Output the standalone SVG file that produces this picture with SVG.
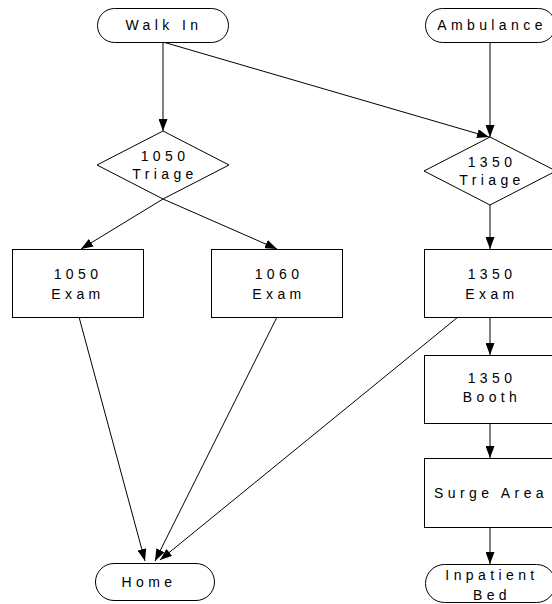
<svg xmlns="http://www.w3.org/2000/svg" width="552" height="604" viewBox="0 0 552 604">
  <defs>
    <marker id="arrow" viewBox="0 0 12 9" refX="12" refY="4.5" markerWidth="12" markerHeight="9" markerUnits="userSpaceOnUse" orient="auto">
      <path d="M0,0 L12,4.5 L0,9 Z" fill="#000"/>
    </marker>
  </defs>
  <style>
    .shape { fill: #fff; stroke: #000; stroke-width: 1; }
    .edge { fill: none; stroke: #000; stroke-width: 1; marker-end: url(#arrow); }
    .label { font-family: "Liberation Sans", Arial, sans-serif; font-size: 14px; letter-spacing: 4.4px; fill: #000; text-anchor: middle; }
  </style>
  <rect width="552" height="604" fill="#fff"/>

  <!-- connectors -->
  <g id="connectors">
    <line class="edge" x1="163" y1="42" x2="163" y2="131"/>
    <line class="edge" x1="163" y1="42" x2="489" y2="137"/>
    <line class="edge" x1="490" y1="42" x2="490" y2="137"/>
    <line class="edge" x1="163" y1="199" x2="81" y2="249"/>
    <line class="edge" x1="163" y1="199" x2="277" y2="249"/>
    <line class="edge" x1="490" y1="205" x2="490" y2="249"/>
    <line class="edge" x1="490" y1="317" x2="490" y2="355"/>
    <line class="edge" x1="490" y1="423" x2="490" y2="458"/>
    <line class="edge" x1="490" y1="527" x2="490" y2="564"/>
    <line class="edge" x1="79" y1="317" x2="145" y2="561"/>
    <line class="edge" x1="277" y1="317" x2="155" y2="561"/>
    <line class="edge" x1="458" y1="317" x2="160" y2="560"/>
  </g>

  <!-- terminals -->
  <g id="walk-in">
    <rect class="shape" x="97.5" y="8.5" width="131" height="34" rx="17" ry="17"/>
    <text class="label" x="164" y="29.5">Walk In</text>
  </g>
  <g id="ambulance">
    <rect class="shape" x="425.5" y="8.5" width="130" height="34" rx="17" ry="17"/>
    <text class="label" x="492" y="30">Ambulance</text>
  </g>

  <!-- triage decisions -->
  <g id="triage-1050">
    <polygon class="shape" points="163,131 229,165 163,199 97,165"/>
    <text class="label" x="165" y="161">1050</text>
    <text class="label" x="165" y="178.5">Triage</text>
  </g>
  <g id="triage-1350">
    <polygon class="shape" points="490,137 556,171 490,205 424,171"/>
    <text class="label" x="492" y="166.5">1350</text>
    <text class="label" x="492" y="185">Triage</text>
  </g>

  <!-- exam rooms -->
  <g id="exam-1050">
    <rect class="shape" x="12.5" y="249.5" width="131" height="68"/>
    <text class="label" x="78" y="279">1050</text>
    <text class="label" x="78" y="299">Exam</text>
  </g>
  <g id="exam-1060">
    <rect class="shape" x="211.5" y="249.5" width="131" height="68"/>
    <text class="label" x="279" y="279">1060</text>
    <text class="label" x="279" y="299">Exam</text>
  </g>
  <g id="exam-1350">
    <rect class="shape" x="424.5" y="249.5" width="131" height="68"/>
    <text class="label" x="492" y="279">1350</text>
    <text class="label" x="492" y="299">Exam</text>
  </g>

  <!-- booth and surge -->
  <g id="booth-1350">
    <rect class="shape" x="424.5" y="355.5" width="131" height="68"/>
    <text class="label" x="492" y="383">1350</text>
    <text class="label" x="492" y="402">Booth</text>
  </g>
  <g id="surge-area">
    <rect class="shape" x="424.5" y="458.5" width="131" height="69"/>
    <text class="label" x="491" y="498">Surge Area</text>
  </g>

  <!-- exits -->
  <g id="home">
    <rect class="shape" x="95.5" y="563.5" width="119" height="37" rx="18.5" ry="18.5"/>
    <text class="label" x="149" y="587">Home</text>
  </g>
  <g id="inpatient-bed">
    <rect class="shape" x="425.5" y="564.5" width="130" height="38" rx="19" ry="19"/>
    <text class="label" x="492" y="580">Inpatient</text>
    <text class="label" x="492" y="600">Bed</text>
  </g>
</svg>
